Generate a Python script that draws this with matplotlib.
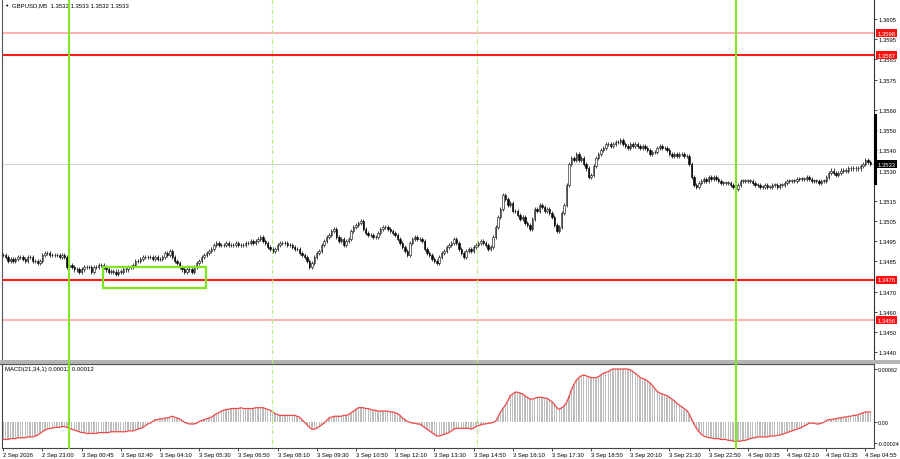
import matplotlib.pyplot as plt
import matplotlib.transforms as mtransforms
import numpy as np
from matplotlib.lines import Line2D
from matplotlib.patches import Rectangle

plt.rcParams["font.family"] = ["Liberation Sans", "DejaVu Sans"]

# ---------------------------------------------------------
# data (GBPUSD M5)
# ---------------------------------------------------------
BASE = 1.3400  # closes stored as pips above this
PIP = 0.0001

close_pips = [
    88, 87, 85, 86, 85, 86, 87, 87, 86, 85,
    87, 87, 85, 85, 84, 85, 88, 89, 89, 88,
    88, 88, 88, 87, 88, 87, 82, 83, 82, 81,
    81, 80, 81, 82, 82, 82, 80, 82, 82, 83,
    83, 82, 81, 80, 80, 80, 79, 80, 80, 81,
    81, 82, 82, 83, 85, 85, 86, 87, 87, 87,
    87, 86, 87, 86, 86, 87, 89, 88, 90, 87,
    85, 84, 82, 81, 80, 81, 81, 80, 82, 84,
    85, 87, 88, 89, 90, 91, 93, 94, 93, 93,
    93, 94, 93, 93, 93, 94, 93, 93, 93, 94,
    94, 95, 94, 95, 96, 97, 95, 94, 92, 91,
    90, 91, 93, 94, 94, 94, 93, 93, 92, 91,
    91, 89, 88, 87, 85, 82, 84, 87, 89, 90,
    93, 95, 97, 98, 100, 101, 97, 95, 96, 93,
    95, 96, 100, 102, 103, 104, 105, 101, 99, 98,
    98, 97, 97, 99, 101, 102, 102, 101, 100, 99,
    98, 96, 94, 92, 90, 88, 94, 96, 97, 96,
    96, 95, 91, 89, 88, 86, 85, 84, 87, 89,
    90, 92, 93, 94, 96, 94, 91, 89, 87, 90,
    91, 90, 92, 93, 94, 95, 94, 93, 91, 92,
    97, 102, 107, 111, 118, 116, 113, 114, 110, 110,
    108, 106, 107, 104, 103, 101, 106, 111, 110, 113,
    112, 110, 111, 109, 107, 103, 100, 102, 109, 113,
    123, 133, 136, 135, 138, 135, 136, 133, 131, 127,
    128, 132, 136, 138, 140, 141, 143, 143, 142, 143,
    144, 144, 145, 143, 142, 141, 143, 142, 143, 142,
    141, 142, 141, 140, 138, 139, 139, 141, 142, 141,
    141, 140, 138, 137, 138, 137, 138, 138, 137, 137,
    133, 127, 123, 122, 124, 125, 126, 125, 127, 126,
    127, 126, 125, 124, 124, 124, 124, 123, 122, 121,
    123, 125, 125, 125, 125, 125, 124, 123, 123, 122,
    122, 123, 122, 122, 123, 123, 122, 123, 123, 124,
    125, 125, 125, 125, 126, 126, 126, 126, 127, 126,
    125, 125, 125, 124, 125, 125, 127, 129, 130, 129,
    128, 129, 130, 130, 130, 131, 131, 131, 131, 131,
    132, 133, 135, 134, 133,
]
first_open_pips = 88
wick_pips = 1

# MACD(21,34,1) in units of 1e-5
macd_e5 = [
    -20, -20, -20, -19, -19, -19, -18, -18, -18, -18,
    -17, -17, -17, -16, -15, -13, -11, -9, -8, -7,
    -7, -6, -6, -6, -5, -5, -6, -7, -8, -9,
    -10, -11, -12, -12, -13, -13, -13, -13, -13, -12,
    -12, -12, -12, -12, -11, -11, -11, -11, -11, -11,
    -11, -10, -10, -10, -9, -8, -7, -6, -4, -2,
    -1, 1, 3, 3, 4, 4, 5, 5, 6, 7,
    6, 5, 4, 2, 0, -1, -2, -2, -2, -1,
    1, 2, 3, 4, 5, 6, 8, 10, 11, 13,
    14, 15, 15, 16, 16, 16, 16, 17, 16, 16,
    16, 16, 16, 17, 17, 17, 17, 16, 15, 14,
    12, 10, 9, 8, 8, 8, 8, 8, 8, 8,
    7, 6, 3, 0, -3, -6, -8, -8, -7, -5,
    -3, -1, 2, 5, 6, 7, 7, 7, 7, 8,
    8, 9, 11, 13, 15, 17, 17, 17, 16, 16,
    15, 14, 14, 13, 13, 13, 13, 13, 12, 12,
    11, 10, 8, 5, 3, 1, 0, -1, -1, -2,
    -2, -4, -6, -8, -10, -12, -14, -16, -16, -15,
    -14, -13, -12, -10, -8, -7, -7, -7, -7, -7,
    -7, -8, -7, -5, -4, -3, -2, -2, -1, -1,
    0, 1, 6, 12, 16, 20, 25, 31, 33, 35,
    35, 34, 33, 31, 29, 27, 27, 28, 29, 29,
    29, 28, 28, 26, 24, 21, 17, 15, 17, 19,
    23, 30, 38, 44, 49, 52, 54, 55, 54, 53,
    52, 52, 52, 53, 55, 57, 58, 59, 61, 62,
    62, 62, 62, 62, 62, 62, 61, 59, 57, 55,
    52, 51, 50, 48, 46, 43, 39, 36, 34, 33,
    32, 31, 29, 27, 25, 22, 20, 18, 16, 14,
    10, 4, -2, -7, -11, -14, -16, -17, -18, -18,
    -19, -19, -19, -20, -20, -20, -21, -21, -22, -22,
    -22, -22, -21, -21, -20, -19, -18, -18, -17, -17,
    -17, -17, -17, -16, -16, -16, -15, -15, -14, -13,
    -12, -11, -10, -9, -8, -7, -6, -4, -3, -1,
    -1, -1, -2, -2, -1, 0, 2, 3, 3, 4,
    4, 5, 5, 6, 6, 7, 7, 8, 8, 9,
    10, 11, 12, 12, 12,
]

time_labels = [
    "2 Sep 2026", "2 Sep 23:00", "3 Sep 00:45", "3 Sep 02:40", "3 Sep 04:10",
    "3 Sep 05:30", "3 Sep 06:50", "3 Sep 08:10", "3 Sep 09:30", "3 Sep 10:50",
    "3 Sep 12:10", "3 Sep 13:30", "3 Sep 14:50", "3 Sep 16:10", "3 Sep 17:30",
    "3 Sep 18:50", "3 Sep 20:10", "3 Sep 21:30", "3 Sep 22:50", "4 Sep 00:35",
    "4 Sep 02:10", "4 Sep 03:35", "4 Sep 04:55",
]
bars_per_label = 16

price_ticks = [1.3605, 1.3595, 1.3585, 1.3575, 1.3560, 1.3550, 1.3540, 1.3530,
               1.3515, 1.3505, 1.3495, 1.3485, 1.3470, 1.3460, 1.3450, 1.3440]

# support / resistance levels (price, strong?)
levels = [(1.3598, False), (1.3587, True), (1.3476, True), (1.3456, False)]
last_price = 1.3533

# session markers (bar positions)
day_lines = [26.7, 299.3]
open_lines = [109.8, 193.4]

# highlighted zone: bar range and price range
zone_bars = (40.6, 82.6)
zone_prices = (1.34718, 1.34822)

# ---------------------------------------------------------
# figure, pixel-based layout
# ---------------------------------------------------------
W, H = 900, 460
fig = plt.figure(figsize=(W / 100, H / 100), dpi=100)
fig.patch.set_facecolor("white")


def fx(px):
    return px / W


def fy(py):
    return 1 - py / H


ax = fig.add_axes([fx(2), fy(361), (874 - 2) / W, 360 / H])
axm = fig.add_axes([fx(2), fy(449), (874 - 2) / W, (449 - 365) / H])

n = len(close_pips)
idx = np.arange(n)
closes = BASE + np.array(close_pips) * PIP
opens = np.concatenate([[BASE + first_open_pips * PIP], closes[:-1]])
highs = np.maximum(opens, closes) + wick_pips * PIP
lows = np.minimum(opens, closes) - wick_pips * PIP

# candles
ax.vlines(idx, lows, highs, color="black", lw=0.5, zorder=3)
bull = closes >= opens
body = np.maximum(np.abs(closes - opens), 0.15 * PIP)
ax.bar(idx[bull], body[bull], bottom=opens[bull], width=0.6,
       facecolor="white", edgecolor="black", lw=0.4, zorder=4)
ax.bar(idx[~bull], body[~bull], bottom=closes[~bull], width=0.6,
       facecolor="black", edgecolor="black", lw=0.4, zorder=4)

ax.set_xlim(-0.5, 355.5)
ax.set_ylim(1.34362, 1.36144)

# levels
for price, strong in levels:
    ax.axhline(price, color="#ff1a1a" if strong else "#ff9c9c",
               lw=1.5 if strong else 1.1, zorder=2)
ax.axhline(last_price, color="#c8c8c8", lw=0.6, zorder=1)

# highlighted zone
ax.add_patch(Rectangle((zone_bars[0], zone_prices[0]),
                       zone_bars[1] - zone_bars[0], zone_prices[1] - zone_prices[0],
                       fill=False, edgecolor="#7ee81e", lw=1.6, zorder=5))

# price axis on the right
ax.yaxis.tick_right()
ax.set_yticks(price_ticks)
ax.set_yticklabels([f"{p:.4f}" for p in price_ticks])
ax.tick_params(axis="y", length=2, width=0.5, labelsize=4.2, pad=1.5)
ax.set_xticks([])
for side in ["top", "bottom"]:
    ax.spines[side].set_visible(False)
ax.spines["left"].set_color("#555555")
ax.spines["right"].set_color("#333333")
ax.spines["left"].set_linewidth(0.8)
ax.spines["right"].set_linewidth(0.8)

# price tags on the right scale
ytrans = mtransforms.blended_transform_factory(ax.transAxes, ax.transData)
for price, strong in levels:
    ax.text(1.004, price, f"{price:.4f}", transform=ytrans, fontsize=4.2,
            color="white", ha="left", va="center", zorder=10, clip_on=False,
            bbox=dict(boxstyle="square,pad=0.25", fc="#ff1010", ec="none"))
ax.text(1.004, last_price, f"{last_price:.4f}", transform=ytrans, fontsize=4.2,
        color="white", ha="left", va="center", zorder=10, clip_on=False,
        bbox=dict(boxstyle="square,pad=0.25", fc="black", ec="none"))

# MACD panel
macd = np.array(macd_e5) * 1e-5
axm.bar(idx, macd, width=0.55, color="#bdbdbd", zorder=2)
axm.plot(idx, macd, color="#f04848", lw=0.9, zorder=3)
axm.set_xlim(-0.5, 355.5)
axm.set_ylim(-29.9e-5, 67.8e-5)
axm.yaxis.tick_right()
axm.set_yticks([62e-5, 0.0, -24e-5])
axm.set_yticklabels(["0.00062", "0.00", "-0.00024"])
axm.tick_params(axis="y", length=2, width=0.5, labelsize=3.9, pad=1)
axm.set_xticks(np.arange(len(time_labels)) * bars_per_label)
axm.set_xticklabels(time_labels)
axm.tick_params(axis="x", length=2, width=0.5, labelsize=4.2, pad=1)
for lab in axm.get_xticklabels():
    lab.set_ha("left")
for side in axm.spines.values():
    side.set_color("#444444")
    side.set_linewidth(0.8)

# separator between the panels
fig.add_artist(Rectangle((0, fy(365)), 1, 4 / H, transform=fig.transFigure,
                         facecolor="#b4b4b4", edgecolor="none", zorder=1))
fig.add_artist(Line2D([0, fx(874)], [fy(364.5), fy(364.5)], color="#555555", lw=0.8))

# session lines across both panels
vtrans = mtransforms.blended_transform_factory(ax.transData, fig.transFigure)
for b in day_lines:
    fig.add_artist(Line2D([b, b], [fy(0), fy(449)], transform=vtrans,
                          color="#7ee81e", lw=1.4, zorder=6))
for b in open_lines:
    fig.add_artist(Line2D([b, b], [fy(0), fy(449)], transform=vtrans,
                          color="#b4ec7c", lw=0.8, dashes=(4, 2, 1, 2), zorder=6))

# current bar marker on the scale edge
fig.add_artist(Line2D([fx(875), fx(875)], [fy(116), fy(184)], color="black", lw=2.2))

# header texts
fig.text(fx(4), fy(6), "\u25BC", fontsize=3.2, va="center", ha="left")
fig.text(fx(12), fy(6), "GBPUSD,M5  1.3532 1.3533 1.3532 1.3533",
         fontsize=4.3, va="center", ha="left")
fig.text(fx(5), fy(370), "MACD(21,34,1) 0.00012 0.00012",
         fontsize=4.3, va="center", ha="left")

fig.savefig("out.png", dpi=100)
